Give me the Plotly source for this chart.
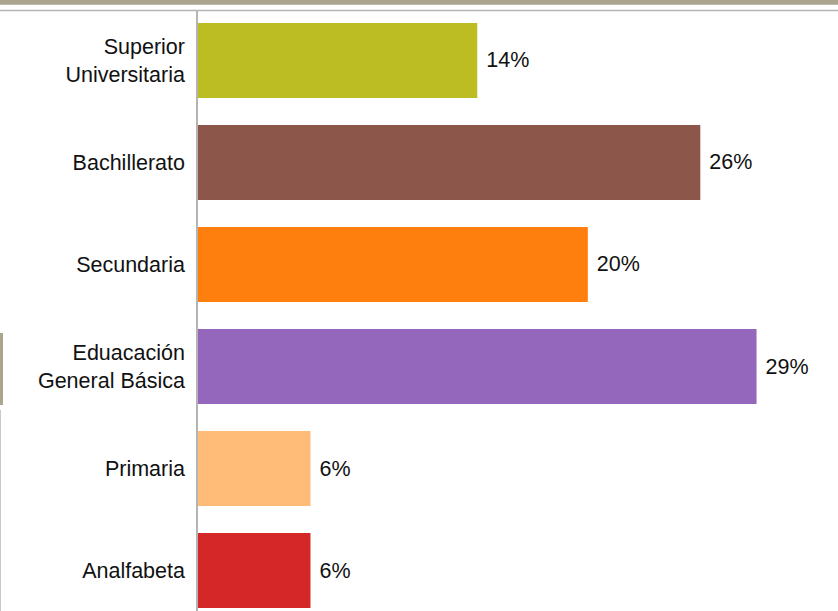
import plotly.graph_objects as go

categorias = ["Analfabeta", "Primaria", "Eduacación<br>General Básica",
              "Secundaria", "Bachillerato", "Superior<br>Universitaria"]
valores = [5.8, 5.8, 28.8, 20.1, 25.9, 14.4]
etiquetas = ["6%", "6%", "29%", "20%", "26%", "14%"]
colores = ["#D62728", "#FFBB78", "#9467BD", "#FF7F0E", "#8C564B", "#BCBD22"]

W, H = 838, 611
L, T = 198, 10
pw, ph = W - L, H - T


def px_x(p):
    return (p - L) / pw


def px_y(p):
    return 1 - (p - T) / ph


fig = go.Figure(go.Bar(
    x=valores,
    y=categorias,
    orientation="h",
    marker=dict(color=colores, line=dict(width=0)),
    text=["\u00a0" + e for e in etiquetas],
    textposition="outside",
    textfont=dict(size=21.5, color="#111111"),
    cliponaxis=False,
    hoverinfo="skip",
))

fig.update_layout(
    width=W,
    height=H,
    margin=dict(l=L, r=0, t=T, b=0),
    paper_bgcolor="white",
    plot_bgcolor="white",
    font=dict(family="Liberation Sans, Arial, sans-serif", size=21.5, color="#111111"),
    bargap=0.265,
    showlegend=False,
    uniformtext=dict(minsize=21, mode="show"),
    xaxis=dict(range=[0, 33], visible=False, fixedrange=True),
    yaxis=dict(
        range=[-0.397, 5.495],
        showline=True,
        linecolor="#B4B4B4",
        linewidth=1.5,
        ticks="",
        showgrid=False,
        ticklabelstandoff=7,
        tickfont=dict(size=21.5, color="#111111"),
        fixedrange=True,
    ),
    shapes=[
        # banda superior
        dict(type="rect", xref="paper", yref="paper",
             x0=px_x(0), x1=px_x(W), y0=px_y(4.7), y1=px_y(0),
             fillcolor="#ABA58F", line=dict(width=0)),
        # linea gris superior
        dict(type="line", xref="paper", yref="paper",
             x0=px_x(0), x1=px_x(W), y0=px_y(10.5), y1=px_y(10.5),
             line=dict(color="#B4B4B4", width=1.5)),
        # marca lateral izquierda
        dict(type="rect", xref="paper", yref="paper",
             x0=px_x(0), x1=px_x(3), y0=px_y(405), y1=px_y(333),
             fillcolor="#ABA58F", line=dict(width=0)),
        dict(type="line", xref="paper", yref="paper",
             x0=px_x(0.5), x1=px_x(0.5), y0=px_y(H), y1=px_y(410),
             line=dict(color="#C8C8C8", width=1)),
    ],
)

fig.write_html("out.html", config={"displayModeBar": False},
               post_script="document.body.style.margin='0';")
